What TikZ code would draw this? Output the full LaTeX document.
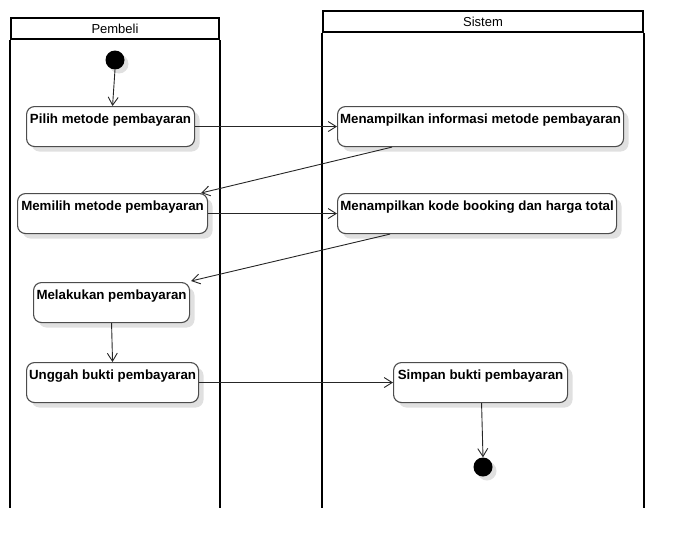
\documentclass[tikz,border=0pt]{standalone}
\usepackage{fontspec}
\setmainfont{Liberation Sans}
\usetikzlibrary{arrows.meta,shadows,calc}
\begin{document}
\begin{tikzpicture}[x=1pt,y=-1pt,
  lanehead/.style={draw=black, line width=2pt, anchor=north west, inner sep=0pt, font=\fontsize{13}{15}\selectfont},
  laneline/.style={draw=black, line width=2pt},
  act/.style={draw=black!70, line width=1.1pt, rounded corners=8pt, fill=white, anchor=north west,
    minimum height=40pt, inner sep=2pt, text height=10pt, text depth=16pt,
    font=\bfseries\fontsize{13.3}{15}\selectfont,
    drop shadow={shadow xshift=5pt, shadow yshift=-5pt, fill=black!12, opacity=1}},
  dot/.style={circle, fill=black, minimum size=19pt, inner sep=0pt,
    drop shadow={shadow xshift=4pt, shadow yshift=-4pt, fill=black!12, opacity=1}},
  flow/.style={draw=black!85, line width=0.9pt, -{Straight Barb[length=8pt,width=10pt]}}
]
\useasboundingbox (0,0) rectangle (682,546);
% swimlanes
\node[lanehead, minimum width=208pt, minimum height=21pt] (pembeli) at (10,17) {Pembeli};
\draw[laneline] (pembeli.south west) -- ++(0,468);
\draw[laneline] (pembeli.south east) -- ++(0,468);
\node[lanehead, minimum width=320pt, minimum height=21pt] (sistem) at (322,10) {Sistem};
\draw[laneline] (sistem.south west) -- ++(0,475);
\draw[laneline] (sistem.south east) -- ++(0,475);
% nodes
\node[dot] (init) at (115,60) {};
\node[act, minimum width=168pt] (pilih) at (26,106) {Pilih metode pembayaran};
\node[act, minimum width=286pt] (info) at (337,106) {Menampilkan informasi metode pembayaran};
\node[act, minimum width=190pt] (memilih) at (17,193) {Memilih metode pembayaran};
\node[act, minimum width=279pt] (kode) at (337,193) {Menampilkan kode booking dan harga total};
\node[act, minimum width=156pt] (melakukan) at (33,282) {Melakukan pembayaran};
\node[act, minimum width=172pt] (unggah) at (26,362) {Unggah bukti pembayaran};
\node[act, minimum width=174pt] (simpan) at (393,362) {Simpan bukti pembayaran};
\node[dot] (final) at (483,467) {};
% flows
\draw[flow] (init.south) -- ($(pilih.north)+(2,0)$);
\draw[flow] (pilih.east) -- (info.west);
\draw[flow] ($(info.south west)+(55,0)$) -- ($(memilih.north east)+(-7,0)$);
\draw[flow] (memilih.east) -- (kode.west);
\draw[flow] ($(kode.south west)+(53,0)$) -- ($(melakukan.north east)+(1,-1)$);
\draw[flow] (melakukan.south) -- (unggah.north);
\draw[flow] (unggah.east) -- (simpan.west);
\draw[flow] ($(simpan.south)+(1,0)$) -- (final.north);
\end{tikzpicture}
\end{document}
